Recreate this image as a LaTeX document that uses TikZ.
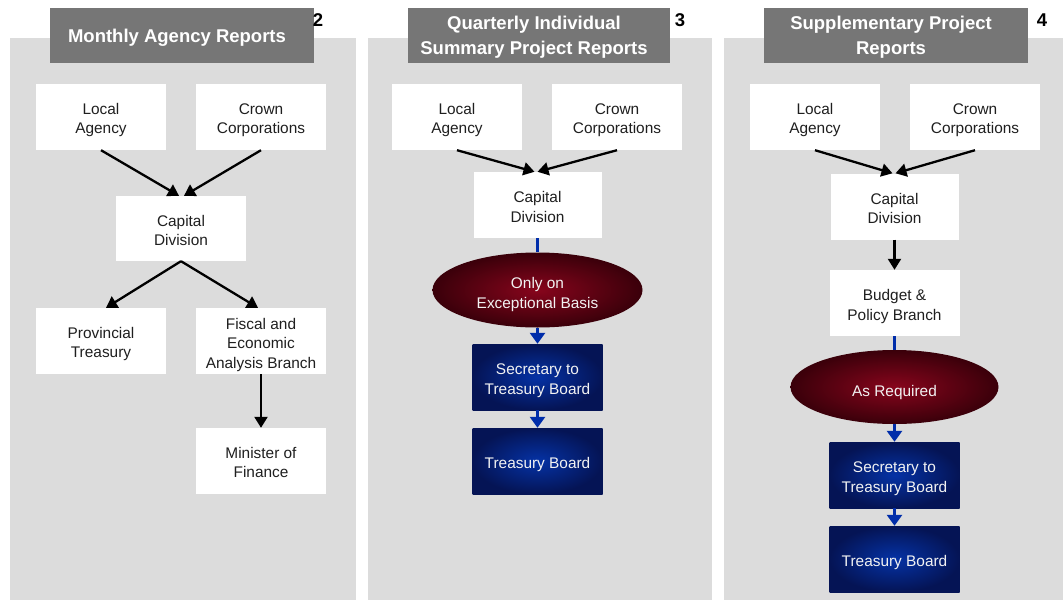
\documentclass[tikz,border=0pt]{standalone}
\usepackage{fontspec}
\setmainfont{Liberation Sans}
\usetikzlibrary{arrows.meta,shapes.geometric}
\definecolor{panelgray}{RGB}{220,220,220}
\definecolor{headgray}{RGB}{118,118,118}
\definecolor{redin}{RGB}{135,5,28}
\definecolor{redout}{RGB}{58,0,10}
\definecolor{bluein}{RGB}{5,50,165}
\definecolor{blueout}{RGB}{5,20,85}
\definecolor{linkblue}{RGB}{0,45,170}
\definecolor{softwhite}{RGB}{242,242,242}
% text lines whose last baseline sits #1 below the node centre
\newcommand\mtext[2]{\raisebox{-#1}[0pt][0pt]{\begin{tabular}[b]{@{}c@{}}#2\end{tabular}}}
\newcommand\htext[2]{\mtext{#1}{#2}\hspace*{10pt}}
\tikzset{
  panel/.style={fill=panelgray, draw=none},
  header/.style={fill=headgray, draw=none, text=white, inner sep=0pt,
    minimum width=264pt, minimum height=55pt, font=\fontsize{18.5}{25}\selectfont\bfseries},
  num/.style={font=\fontsize{18.5}{20}\selectfont\bfseries, inner sep=0pt},
  wbox/.style={fill=white, draw=none, inner sep=0pt,
    minimum width=130pt, minimum height=66pt, font=\fontsize{15.4}{19.5}\selectfont, text=black!88},
  bbox/.style={wbox, inner color=bluein, outer color=blueout, text=softwhite},
  oval/.style={ellipse, inner sep=0pt, minimum width=210pt, minimum height=75pt,
    inner color=redin, outer color=redout, text=softwhite, font=\fontsize{15.4}{19.5}\selectfont},
  blk/.style={draw=black, line width=2.3pt, -{Triangle[length=11pt,width=13pt]}},
  blu/.style={draw=linkblue, line width=3.8pt, -{Triangle[length=11pt,width=15pt]}},
  bluline/.style={draw=linkblue, line width=3.8pt}
}
\begin{document}
\begin{tikzpicture}[x=1pt,y=-1pt]
\useasboundingbox (0,0) rectangle (1063,600);
% panels
\fill[panel] (10,38) rectangle (356,600);
\fill[panel] (368,38) rectangle (712,600);
\fill[panel] (724,38) rectangle (1063,600);
% headers
\node[header] (h1) at (182,35.5) {\htext{7pt}{Monthly Agency Reports}};
\node[header, minimum width=262pt] (h2) at (539,35.5) {\htext{19pt}{Quarterly Individual\\Summary Project Reports}};
\node[header] (h3) at (896,35.5) {\htext{19pt}{Supplementary Project\\Reports}};
\node[num] (n2) at (318,20) {2};
\node[num] (n3) at (680,20) {3};
\node[num] (n4) at (1042,20) {4};
% panel 1
\node[wbox] (la1) at (101,117) {\mtext{16.8pt}{Local\\Agency}};
\node[wbox] (cc1) at (261,117) {\mtext{16.8pt}{Crown\\Corporations}};
\node[wbox, minimum height=65pt] (cd1) at (181,228.5) {\mtext{17pt}{Capital\\Division}};
\node[wbox] (pt1) at (101,341) {\mtext{16.8pt}{Provincial\\Treasury}};
\node[wbox] (fe1) at (261,341) {\mtext{27.3pt}{Fiscal and\\Economic\\Analysis Branch}};
\node[wbox] (mf1) at (261,461) {\mtext{16.8pt}{Minister of\\Finance}};
\draw[blk] (la1.south) -- ([xshift=-2pt]cd1.north);
\draw[blk] (cc1.south) -- ([xshift=3pt]cd1.north);
\draw[blk] (cd1.south) -- ([xshift=5pt]pt1.north);
\draw[blk] (cd1.south) -- ([xshift=-3pt]fe1.north);
\draw[blk] (fe1.south) -- (mf1.north);
% panel 2
\node[wbox] (la2) at (457,117) {\mtext{16.8pt}{Local\\Agency}};
\node[wbox] (cc2) at (617,117) {\mtext{16.8pt}{Crown\\Corporations}};
\node[wbox, minimum width=128pt] (cd2) at (537.5,205) {\mtext{17pt}{Capital\\Division}};
\node[oval] (ov2) at (537.5,290) {\mtext{18pt}{Only on\\Exceptional Basis}};
\node[bbox] (st2) at (537.5,377) {\mtext{17pt}{Secretary to\\Treasury Board}};
\node[bbox] (tb2) at (537.5,461) {\mtext{7.5pt}{Treasury Board}};
\draw[blk] (la2.south) -- ([xshift=-3pt]cd2.north);
\draw[blk] (cc2.south) -- ([xshift=0pt]cd2.north);
\draw[bluline] (cd2.south) -- (ov2.north);
\draw[blu] (ov2.south) -- (st2.north);
\draw[blu] (st2.south) -- (tb2.north);
% panel 3
\node[wbox] (la3) at (815,117) {\mtext{16.8pt}{Local\\Agency}};
\node[wbox] (cc3) at (975,117) {\mtext{16.8pt}{Crown\\Corporations}};
\node[wbox, minimum width=128pt] (cd3) at (894.5,206.5) {\mtext{17pt}{Capital\\Division}};
\node[wbox] (bp3) at (894.5,303) {\mtext{17pt}{Budget \&\\Policy Branch}};
\node[oval, minimum width=208pt, minimum height=74pt] (ov3) at (894.5,387) {\mtext{9pt}{As Required}};
\node[bbox] (st3) at (894.5,475) {\mtext{17pt}{Secretary to\\Treasury Board}};
\node[bbox] (tb3) at (894.5,559) {\mtext{7.5pt}{Treasury Board}};
\draw[blk] (la3.south) -- ([xshift=-2pt]cd3.north);
\draw[blk] (cc3.south) -- ([xshift=1pt]cd3.north);
\draw[blk] (cd3.south) -- (bp3.north);
\draw[bluline] (bp3.south) -- (ov3.north);
\draw[blu] (ov3.south) -- (st3.north);
\draw[blu] (st3.south) -- (tb3.north);
\end{tikzpicture}
\end{document}
